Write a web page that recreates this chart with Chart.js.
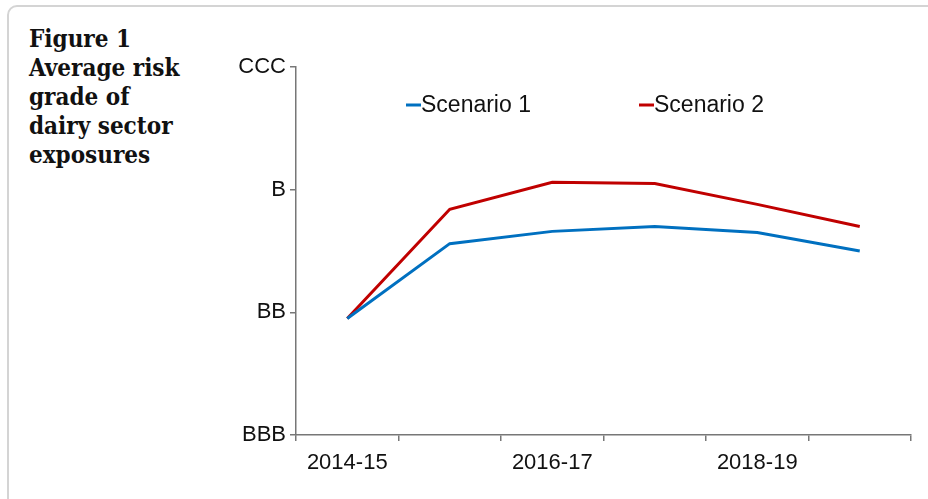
<!DOCTYPE html>
<html>
<head>
<meta charset="utf-8">
<script src="https://cdn.jsdelivr.net/npm/chart.js@4"></script>
<style>
  html, body { margin: 0; padding: 0; background: #fff; }
  #wrap { position: relative; width: 928px; height: 499px; overflow: hidden; }
  #frame {
    position: absolute; left: 7px; top: 5px; width: 940px; height: 520px;
    border: 2px solid #d4d4d4; border-radius: 10px; box-sizing: border-box;
  }
  #title {
    position: absolute; left: 29px; top: 24px;
    font-family: "DejaVu Serif Condensed", "DejaVu Serif", serif; font-weight: bold; font-size: 24px;
    line-height: 29px; color: #111;
  }
  canvas { position: absolute; left: 0; top: 0; }
</style>
</head>
<body>
<div id="wrap">
  <div id="frame"></div>
  <div id="title">Figure 1<br>Average risk<br>grade of<br>dairy sector<br>exposures</div>
  <canvas id="lineChart" width="928" height="499"></canvas>
</div>
<script>
  // Years on the x axis
  const years = ["2014-15", "2015-16", "2016-17", "2017-18", "2018-19", "2019-20"];
  // Risk grades on the y axis (0 = BBB ... 3 = CCC)
  const grades = ["BBB", "BB", "B", "CCC"];

  const scenario1 = [0.95, 1.56, 1.66, 1.70, 1.65, 1.50];
  const scenario2 = [0.95, 1.84, 2.06, 2.05, 1.88, 1.70];

  const labelFont = "'Liberation Sans', Arial, sans-serif";

  // draws the legend inside the plot area, like the original
  const insideLegend = {
    id: "insideLegend",
    afterDraw(chart) {
      const ctx = chart.ctx;
      const spots = [406, 639];
      ctx.save();
      ctx.font = "23px " + labelFont;
      ctx.textBaseline = "middle";
      chart.data.datasets.forEach((ds, i) => {
        const x = spots[i];
        ctx.strokeStyle = ds.borderColor;
        ctx.lineWidth = 3;
        ctx.beginPath();
        ctx.moveTo(x, 105);
        ctx.lineTo(x + 15, 105);
        ctx.stroke();
        ctx.fillStyle = "#111";
        ctx.fillText(ds.label, x + 15, 106);
      });
      ctx.restore();
    }
  };

  const ctx = document.getElementById("lineChart").getContext("2d");

  new Chart(ctx, {
    type: "line",
    data: {
      labels: years,
      datasets: [
        {
          label: "Scenario 1",
          data: scenario1,
          borderColor: "#0070C0",
          borderWidth: 3,
          pointRadius: 0,
          tension: 0,
          fill: false,
        },
        {
          label: "Scenario 2",
          data: scenario2,
          borderColor: "#C00000",
          borderWidth: 3,
          pointRadius: 0,
          tension: 0,
          fill: false,
        },
      ],
    },
    options: {
      responsive: false,
      animation: false,
      layout: {
        padding: { left: 226, top: 67, right: 17, bottom: 0 },
      },
      plugins: {
        legend: { display: false },
        tooltip: { enabled: false },
      },
      scales: {
        x: {
          offset: true,
          grid: {
            offset: true,
            drawOnChartArea: false,
            tickLength: 6,
            color: "#777",
            lineWidth: 1.5,
          },
          border: { color: "#777", width: 1.5 },
          ticks: {
            autoSkip: false,
            maxRotation: 0,
            padding: 9,
            color: "#111",
            font: { family: labelFont, size: 22 },
            callback: function (value, index) {
              return index % 2 === 0 ? years[index] : "";
            },
          },
          afterFit: function (scale) { scale.height = 64; },
        },
        y: {
          min: 0,
          max: 3,
          grid: {
            drawOnChartArea: false,
            tickLength: 6,
            color: "#777",
            lineWidth: 1.5,
          },
          border: { color: "#777", width: 1.5 },
          ticks: {
            stepSize: 1,
            padding: 4,
            color: "#111",
            font: { family: labelFont, size: 22 },
            callback: function (value) {
              return grades[value];
            },
          },
          afterFit: function (scale) { scale.width = 70; },
        },
      },
    },
    plugins: [insideLegend],
  });
</script>
</body>
</html>
